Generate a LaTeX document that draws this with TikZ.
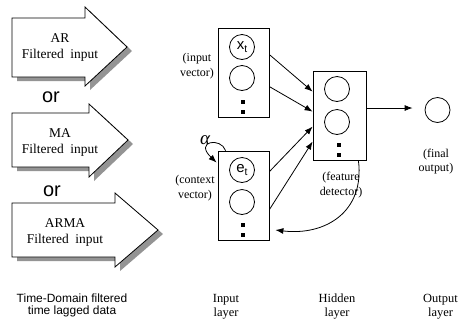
\documentclass[tikz,border=0pt]{standalone}
\usepackage{fontspec}
\setmainfont{Liberation Serif}
\setsansfont{Liberation Sans}
\usetikzlibrary{arrows.meta,calc}
\newcommand\bigArrowShape[7]{%
  \fill[arrshadow, shift={(5,4)}] (12,#1) -- (#3,#1) -- (#3,#4) -- (#6,#7) -- (#3,#5) -- (#3,#2) -- (12,#2) -- cycle;
  \draw[bigarrow] (12,#1) -- (#3,#1) -- (#3,#4) -- (#6,#7) -- (#3,#5) -- (#3,#2) -- (12,#2) -- cycle;
}
\newcommand\unitlabel[1]{{\fontsize{15}{15}\sffamily #1\raisebox{-3.5bp}{\fontsize{10.5}{10.5}\selectfont t}}}
\begin{document}
\begin{tikzpicture}[x=1bp,y=-1bp,
  box/.style={draw, line width=0.8bp, minimum width=51bp, minimum height=89bp, inner sep=0},
  unit/.style={draw, circle, line width=0.8bp, minimum size=25bp, inner sep=0},
  sqdot/.style={fill=black, minimum size=4bp, inner sep=0},
  conn/.style={line width=0.8bp, -{Latex[length=8bp,width=6bp]}},
  lbl/.style={font=\fontsize{12}{14.5}\selectfont, align=center, inner sep=0},
  bottomlbl/.style={font=\fontsize{12.5}{14}\selectfont, align=center, inner sep=0},
  arrtext/.style={font=\fontsize{13.5}{16.5}\selectfont, align=center, inner sep=0},
  ortext/.style={font=\fontsize{20}{20}\sffamily, inner sep=0, anchor=base},
  sanslbl/.style={font=\fontsize{12}{13}\sffamily, align=center, inner sep=0},
  bigarrow/.style={draw, line width=0.8bp, fill=white},
  arrshadow/.style={fill=black!42},
]
\useasboundingbox (0,0) rectangle (459,325);
\fill[white] (0,0) rectangle (459,325);

% block arrows
\bigArrowShape{18}{77}{85}{7}{86}{127}{47}
\bigArrowShape{113}{167}{89}{104}{177}{128}{140}
\bigArrowShape{203}{257}{115}{193}{267}{158}{230}
\node[arrtext] (tAR) at (60,47.4) {AR\\Filtered\ \ input};
\node[arrtext] (tMA) at (60,142.4) {MA\\Filtered\ \ input};
\node[arrtext] (tARMA) at (65,232.4) {ARMA\\Filtered\ \ input};
\node[ortext] (or1) at (51,102) {or};
\node[ortext] (or2) at (52,196) {or};
\node[sanslbl] (tdom) at (72,305.4) {Time-Domain filtered\\time lagged data};

% boxes
\node[box] (inbox) at (243.5,72.5) {};
\node[box] (ctxbox) at (243.5,195.5) {};
\node[box, minimum width=53bp] (hidbox) at (339.5,115.5) {};

% units
\node[unit] (x) at (242,47) {\unitlabel{x}};
\node[unit] (i2) at (242,78) {};
\node[sqdot] (id1) at (243,102) {};
\node[sqdot] (id2) at (243,112) {};
\node[unit] (e) at (242,170) {\unitlabel{e}};
\node[unit] (c2) at (242,202) {};
\node[sqdot] (cd1) at (243,225) {};
\node[sqdot] (cd2) at (243,235) {};
\node[unit] (h1) at (337,89) {};
\node[unit] (h2) at (337,122) {};
\node[sqdot] (hd1) at (339,145) {};
\node[sqdot] (hd2) at (339,154.5) {};
\node[unit] (outc) at (437.5,110) {};

% connectors
\draw[conn] ($(inbox.north east)+(0,27)$) -- ($(hidbox.north west)+(0,21)$);
\draw[conn] ($(inbox.north east)+(0,59)$) -- ($(hidbox.north west)+(0,41)$);
\draw[conn] ($(ctxbox.north east)+(0,21)$) -- ($(hidbox.north west)+(0,56)$);
\draw[conn] ($(ctxbox.north east)+(0,59)$) -- ($(hidbox.north west)+(0,71)$);
\draw[conn] ($(hidbox.east)+(0,-7.5)$) -- ($(outc.west)+(-12,-2)$);
\draw[conn] ($(hidbox.south east)+(-8,0)$) .. controls (365,212) and (325,236) .. ($(ctxbox.east)+(6,34.5)$);
\draw[conn] ($(ctxbox.north west)+(8,0)$) .. controls (221,137) and (194,141) .. ($(ctxbox.north west)+(-1,12)$);
\node[font=\fontsize{19}{19}\selectfont\itshape, inner sep=0] (alpha) at (205,140) {α};

% labels
\node[lbl] (linv) at (197,66) {(input\\vector)};
\node[lbl] (lctx) at (195,188) {(context\\vector)};
\node[lbl] (lfeat) at (341,185) {(feature\\detector)};
\node[lbl] (lfin) at (436,161.5) {(final\\output)};
\node[bottomlbl] (lin) at (226,306.3) {Input\\layer};
\node[bottomlbl] (lhid) at (337,306.3) {Hidden\\layer};
\node[bottomlbl] (lout) at (440.5,306.3) {Output\\layer};
\end{tikzpicture}
\end{document}
